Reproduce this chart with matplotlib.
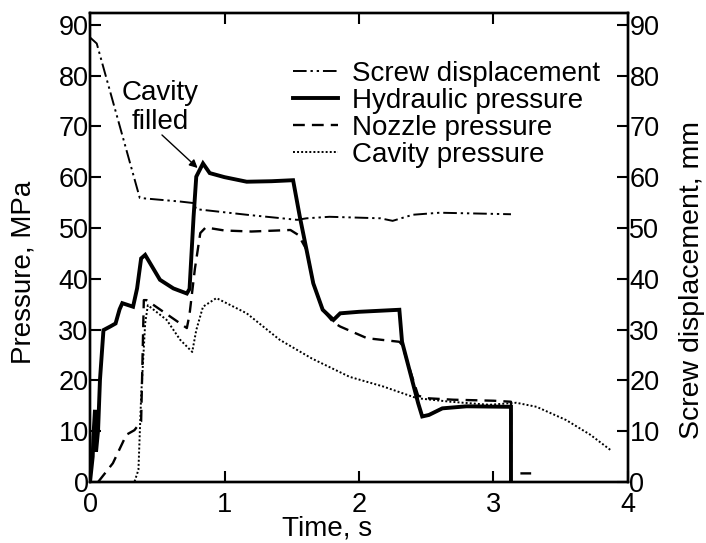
import numpy as np
import matplotlib
matplotlib.use('Agg')
import matplotlib.pyplot as plt

plt.rcParams['font.family'] = ['Liberation Sans', 'DejaVu Sans']

# Hydraulic pressure (MPa)
t_hyd = [0, 0.02, 0.025, 0.037, 0.045, 0.06, 0.074, 0.1, 0.15, 0.19, 0.22, 0.24, 0.32,
         0.35, 0.38, 0.41, 0.52, 0.62, 0.72, 0.74, 0.77, 0.79, 0.84, 0.89, 1.0, 1.165,
         1.35, 1.51, 1.56, 1.61, 1.66, 1.73, 1.81, 1.86, 2.0, 2.30, 2.32, 2.44, 2.47,
         2.52, 2.62, 2.8, 3.13, 3.13]
p_hyd = [0, 5, 8.9, 14.2, 6, 10.2, 20.1, 29.9, 30.6, 31.2, 34, 35.2, 34.5,
         38.1, 44.0, 44.7, 39.8, 38.1, 37.1, 38, 52.2, 60.1, 62.7, 60.8, 60, 59.1,
         59.2, 59.4, 52.2, 45.7, 39.1, 33.9, 31.9, 33.2, 33.5, 33.9, 27.6, 15.5, 12.9,
         13.2, 14.5, 14.9, 14.8, 0]

# Nozzle pressure (MPa), gap before the short tail dash
t_noz = [0.06, 0.17, 0.24, 0.27, 0.33, 0.38, 0.40, 0.42, 0.72, 0.74, 0.78, 0.82, 0.86,
         1.0, 1.2, 1.49, 1.55, 1.61, 1.66, 1.73, 1.81, 1.86, 2.06, 2.30, 2.32, 2.44,
         2.5, 2.7, 3.0, 3.13, 3.13, np.nan, 3.2, 3.28]
p_noz = [0, 3.7, 7.6, 9.3, 10.2, 11.9, 35.8, 35.8, 30.3, 33, 42, 49, 50.1,
         49.5, 49.3, 49.6, 48.6, 45.7, 39.1, 33.9, 31.4, 30.6, 28.3, 27.6, 27.0, 17,
         16.5, 16.2, 16.0, 15.8, 0, np.nan, 1.7, 1.7]

# Cavity pressure (MPa)
t_cav = [0, 0.33, 0.36, 0.38, 0.41, 0.43, 0.57, 0.67, 0.76, 0.79, 0.84, 0.94, 1.165,
         1.41, 1.65, 1.93, 2.18, 2.43, 2.68, 2.97, 3.17, 3.32, 3.54, 3.72, 3.87]
p_cav = [0, 0, 2.4, 16.8, 31.2, 34.8, 31.9, 28.0, 25.6, 29.9, 34.5, 36.2, 33.2,
         28.0, 24.3, 20.7, 18.8, 16.5, 15.8, 15.2, 15.6, 14.8, 12.2, 9.3, 6.3]

# Screw displacement (mm)
t_scr = [0, 0.05, 0.37, 0.67, 0.77, 0.79, 1.165, 1.54, 1.61, 1.78, 2.16, 2.25, 2.40,
         2.60, 3.13]
d_scr = [87.5, 86.3, 55.9, 55.2, 54.9, 53.7, 52.6, 51.6, 51.9, 52.2, 51.9, 51.4, 52.6,
         53.0, 52.7]

fig = plt.figure(figsize=(7.06, 5.43), dpi=100)
ax = fig.add_axes([0.1275, 0.1123, 0.762, 0.8637])
ax2 = ax.twinx()

ln_scr, = ax2.plot(t_scr, d_scr, color='black', lw=1.4, dashes=(7, 2, 1.2, 2, 1.2, 2))
ln_hyd, = ax.plot(t_hyd, p_hyd, color='black', lw=2.8, solid_joinstyle='miter')
ln_noz, = ax.plot(t_noz, p_noz, color='black', lw=1.7, dashes=(5, 3))
ln_cav, = ax.plot(t_cav, p_cav, color='black', lw=1.4, dashes=(1, 1.1))

ymax = 92.3
for a in (ax, ax2):
    a.set_ylim(0, ymax)
    a.set_yticks(range(0, 91, 10))
    a.tick_params(direction='in', length=8, width=1.5, labelsize=19.5, pad=1)
    for s in a.spines.values():
        s.set_linewidth(1.7)
ax.set_xlim(0, 4)
ax.set_xticks([0, 1, 2, 3, 4])
ax.tick_params(axis='x', top=True, pad=7)

ax.set_xlabel('Time, s', fontsize=20)
ax.xaxis.set_label_coords(0.44, -0.072)
ax.set_ylabel('Pressure, MPa', fontsize=20)
ax.yaxis.set_label_coords(-0.1, 0.448)
ax2.set_ylabel('Screw displacement, mm', fontsize=20.5, rotation=90)
ax2.yaxis.set_label_coords(1.094, 0.43)

ax.text(0.52, 73.7, 'Cavity\nfilled', ha='center', va='center', fontsize=20,
        linespacing=1.18)
ax.annotate('', xy=(0.80, 61.8), xytext=(0.535, 68.3),
            arrowprops=dict(arrowstyle='-|>', color='black', lw=1.0,
                            mutation_scale=12, shrinkA=0, shrinkB=0))

ax.legend([ln_scr, ln_hyd, ln_noz, ln_cav],
          ['Screw displacement', 'Hydraulic pressure', 'Nozzle pressure', 'Cavity pressure'],
          loc='upper left', bbox_to_anchor=(0.377, 0.898), frameon=False, fontsize=20,
          handlelength=1.62, handletextpad=0.5, labelspacing=0.04, borderpad=0,
          borderaxespad=0)

fig.savefig('out.png', dpi=100)
